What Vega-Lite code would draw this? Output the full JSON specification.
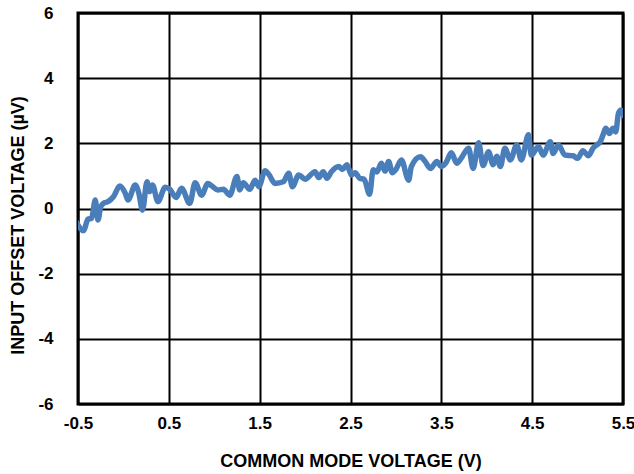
{
  "$schema": "https://vega.github.io/schema/vega-lite/v6.json",
  "width": 545,
  "height": 391,
  "autosize": {"type": "none"},
  "padding": {"left": 78, "top": 13, "right": 11, "bottom": 70},
  "background": "white",
  "config": {
    "font": "Liberation Sans",
    "view": {"stroke": "black", "strokeWidth": 3}
  },
  "data": {
    "values": [
      {"v": -0.52, "u": -0.41}, {"v": -0.44, "u": -0.68}, {"v": -0.39, "u": -0.33}, {"v": -0.35, "u": -0.30},
      {"v": -0.31, "u": 0.26}, {"v": -0.28, "u": -0.35}, {"v": -0.25, "u": 0.05}, {"v": -0.22, "u": 0.16},
      {"v": -0.17, "u": 0.21}, {"v": -0.11, "u": 0.36}, {"v": -0.04, "u": 0.69}, {"v": 0.02, "u": 0.47},
      {"v": 0.05, "u": 0.26}, {"v": 0.13, "u": 0.72}, {"v": 0.17, "u": 0.47}, {"v": 0.21, "u": -0.05},
      {"v": 0.26, "u": 0.82}, {"v": 0.29, "u": 0.52}, {"v": 0.32, "u": 0.72}, {"v": 0.38, "u": 0.21},
      {"v": 0.46, "u": 0.65}, {"v": 0.51, "u": 0.59}, {"v": 0.58, "u": 0.34}, {"v": 0.64, "u": 0.62},
      {"v": 0.73, "u": 0.16}, {"v": 0.79, "u": 0.79}, {"v": 0.86, "u": 0.41}, {"v": 0.93, "u": 0.77},
      {"v": 0.97, "u": 0.70}, {"v": 1.04, "u": 0.57}, {"v": 1.10, "u": 0.59}, {"v": 1.17, "u": 0.41},
      {"v": 1.25, "u": 0.98}, {"v": 1.28, "u": 0.57}, {"v": 1.32, "u": 0.79}, {"v": 1.39, "u": 0.59},
      {"v": 1.45, "u": 0.87}, {"v": 1.49, "u": 0.67}, {"v": 1.56, "u": 1.16}, {"v": 1.60, "u": 1.05},
      {"v": 1.67, "u": 0.77}, {"v": 1.76, "u": 0.82}, {"v": 1.82, "u": 1.08}, {"v": 1.86, "u": 0.67},
      {"v": 1.93, "u": 1.03}, {"v": 2.00, "u": 0.90}, {"v": 2.11, "u": 1.13}, {"v": 2.15, "u": 0.95},
      {"v": 2.20, "u": 1.13}, {"v": 2.24, "u": 0.93}, {"v": 2.29, "u": 1.13}, {"v": 2.37, "u": 1.29},
      {"v": 2.41, "u": 1.20}, {"v": 2.46, "u": 1.34}, {"v": 2.49, "u": 1.15}, {"v": 2.51, "u": 1.03},
      {"v": 2.55, "u": 1.10}, {"v": 2.60, "u": 0.93}, {"v": 2.65, "u": 0.90}, {"v": 2.71, "u": 0.44},
      {"v": 2.75, "u": 1.19}, {"v": 2.79, "u": 1.12}, {"v": 2.84, "u": 1.39}, {"v": 2.88, "u": 1.15},
      {"v": 2.92, "u": 1.44}, {"v": 2.96, "u": 1.10}, {"v": 3.00, "u": 1.20}, {"v": 3.06, "u": 1.49},
      {"v": 3.14, "u": 0.87}, {"v": 3.17, "u": 1.29}, {"v": 3.27, "u": 1.59}, {"v": 3.32, "u": 1.45},
      {"v": 3.38, "u": 1.23}, {"v": 3.45, "u": 1.44}, {"v": 3.50, "u": 1.29}, {"v": 3.55, "u": 1.40},
      {"v": 3.61, "u": 1.71}, {"v": 3.67, "u": 1.39}, {"v": 3.72, "u": 1.55}, {"v": 3.80, "u": 1.85},
      {"v": 3.85, "u": 1.23}, {"v": 3.91, "u": 2.02}, {"v": 3.96, "u": 1.32}, {"v": 4.02, "u": 1.74},
      {"v": 4.07, "u": 1.34}, {"v": 4.11, "u": 1.60}, {"v": 4.15, "u": 1.29}, {"v": 4.20, "u": 1.85},
      {"v": 4.26, "u": 1.49}, {"v": 4.33, "u": 1.95}, {"v": 4.38, "u": 1.49}, {"v": 4.46, "u": 2.26},
      {"v": 4.49, "u": 1.64}, {"v": 4.57, "u": 1.90}, {"v": 4.62, "u": 1.64}, {"v": 4.70, "u": 2.05},
      {"v": 4.73, "u": 1.69}, {"v": 4.79, "u": 1.95}, {"v": 4.86, "u": 1.64}, {"v": 4.95, "u": 1.62},
      {"v": 5.00, "u": 1.54}, {"v": 5.06, "u": 1.77}, {"v": 5.12, "u": 1.62}, {"v": 5.17, "u": 1.85},
      {"v": 5.21, "u": 1.95}, {"v": 5.25, "u": 2.05}, {"v": 5.28, "u": 2.26}, {"v": 5.31, "u": 2.46},
      {"v": 5.35, "u": 2.30}, {"v": 5.39, "u": 2.46}, {"v": 5.42, "u": 2.35}, {"v": 5.45, "u": 2.92},
      {"v": 5.48, "u": 3.02}, {"v": 5.51, "u": 2.85}
    ]
  },
  "mark": {"type": "line", "color": "#4A7EBB", "strokeWidth": 5.5, "interpolate": "monotone", "strokeJoin": "round", "strokeCap": "round", "clip": true},
  "encoding": {
    "x": {
      "field": "v", "type": "quantitative",
      "scale": {"domain": [-0.5, 5.5], "nice": false, "zero": false},
      "axis": {
        "title": "COMMON MODE VOLTAGE (V)",
        "values": [-0.5, 0.5, 1.5, 2.5, 3.5, 4.5, 5.5],
        "format": ".1f",
        "labelExpr": "replace(datum.label, '−', '-')",
        "grid": true, "gridColor": "black", "gridWidth": 2, "gridOpacity": 1,
        "domain": false, "ticks": false,
        "labelFont": "Liberation Sans", "labelFontWeight": "bold", "labelFontSize": 17, "labelColor": "black",
        "labelPadding": 11, "labelFlush": false,
        "titleFont": "Liberation Sans", "titleFontWeight": "bold", "titleFontSize": 18, "titleColor": "black",
        "titlePadding": 21
      }
    },
    "y": {
      "field": "u", "type": "quantitative",
      "scale": {"domain": [-6, 6], "nice": false},
      "axis": {
        "title": "INPUT OFFSET VOLTAGE (µV)",
        "values": [-6, -4, -2, 0, 2, 4, 6],
        "format": "d",
        "labelExpr": "replace(datum.label, '−', '-')",
        "grid": true, "gridColor": "black", "gridWidth": 2, "gridOpacity": 1,
        "domain": false, "ticks": false,
        "labelFont": "Liberation Sans", "labelFontWeight": "bold", "labelFontSize": 17, "labelColor": "black",
        "labelPadding": 25, "labelFlush": false,
        "titleFont": "Liberation Sans", "titleFontWeight": "bold", "titleFontSize": 18, "titleColor": "black",
        "titlePadding": 10, "titleY": 212
      }
    }
  }
}
